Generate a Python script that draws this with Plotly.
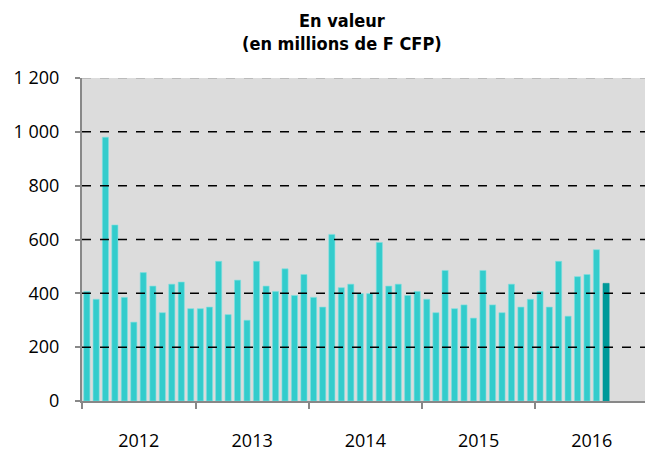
import plotly.graph_objects as go
import pandas as pd

# Data (millions de F CFP), monthly Jan 2012 - Aug 2016
months = pd.date_range("2012-01-01", periods=56, freq="MS")
values = [
    407, 378, 980, 654, 385, 293, 477, 427, 328, 434, 442, 343,   # 2012
    343, 349, 519, 321, 449, 300, 519, 427, 407, 491, 392, 470,   # 2013
    385, 349, 619, 421, 434, 399, 399, 589, 427, 434, 392, 407,   # 2014
    378, 328, 485, 343, 357, 308, 485, 357, 328, 434, 349, 378,   # 2015
    407, 349, 519, 315, 462, 470, 562, 437,                       # 2016
]
y_ticks = [0, 200, 400, 600, 800, 1000, 1200]
y_tick_text = ["0", "200", "400", "600", "800", "1 000", "1 200"]
grid_black = [200, 400, 600, 800, 1000]
grid_grey = [1200]
title_text = "<b>En valeur<br>(en millions de F CFP)</b>"

bar_color = "#33CCCC"
last_color = "#009999"
colors = [bar_color] * (len(values) - 1) + [last_color]
line_colors = ["#7fe0e0"] * (len(values) - 1) + [last_color]

fig = go.Figure()
fig.add_trace(go.Bar(
    x=months, y=values,
    xperiod="M1", xperiodalignment="middle",
    marker=dict(color=colors, line=dict(color=line_colors, width=0.6)),
    showlegend=False,
))

shapes = []
for g in grid_black:
    shapes.append(dict(type="line", xref="paper", x0=0, x1=1, yref="y", y0=g, y1=g,
                       line=dict(color="black", width=1.5, dash="dash"), layer="above"))
for g in grid_grey:
    shapes.append(dict(type="line", xref="paper", x0=0, x1=1, yref="y", y0=g, y1=g,
                       line=dict(color="#b0b0b0", width=1.5, dash="dash"), layer="above"))

fig.update_layout(
    width=645, height=452,
    margin=dict(l=82, r=0, t=78, b=49),
    paper_bgcolor="white", plot_bgcolor="#dcdcdc",
    bargap=0.33,
    font=dict(family="Open Sans", size=18, color="black"),
    shapes=shapes,
    annotations=[dict(
        text=title_text, xref="paper", yref="paper", x=0.462, y=1,
        xanchor="center", yanchor="bottom", yshift=22, showarrow=False,
        font=dict(family="DejaVu Sans Condensed, DejaVu Sans", size=18, color="black"),
    )],
)
fig.update_xaxes(
    type="date", range=["2012-01-01", "2016-12-20"],
    dtick="M12", tick0="2012-01-01", tickformat="%Y", ticklabelmode="period",
    ticks="outside", ticklen=6, tickwidth=2, tickcolor="#888888",
    showline=True, linecolor="#888888", linewidth=2,
    showgrid=False, ticklabelstandoff=16,
    tickfont=dict(size=18),
)
fig.update_yaxes(
    range=[0, 1200], tickvals=y_ticks, ticktext=y_tick_text,
    ticks="outside", ticklen=5, tickwidth=2, tickcolor="#888888",
    showline=True, linecolor="#888888", linewidth=2,
    showgrid=False, zeroline=False, ticklabelstandoff=12,
    tickfont=dict(size=18),
)

fig.write_html("out.html", config={"displayModeBar": False},
               post_script="document.body.style.margin='0';")
